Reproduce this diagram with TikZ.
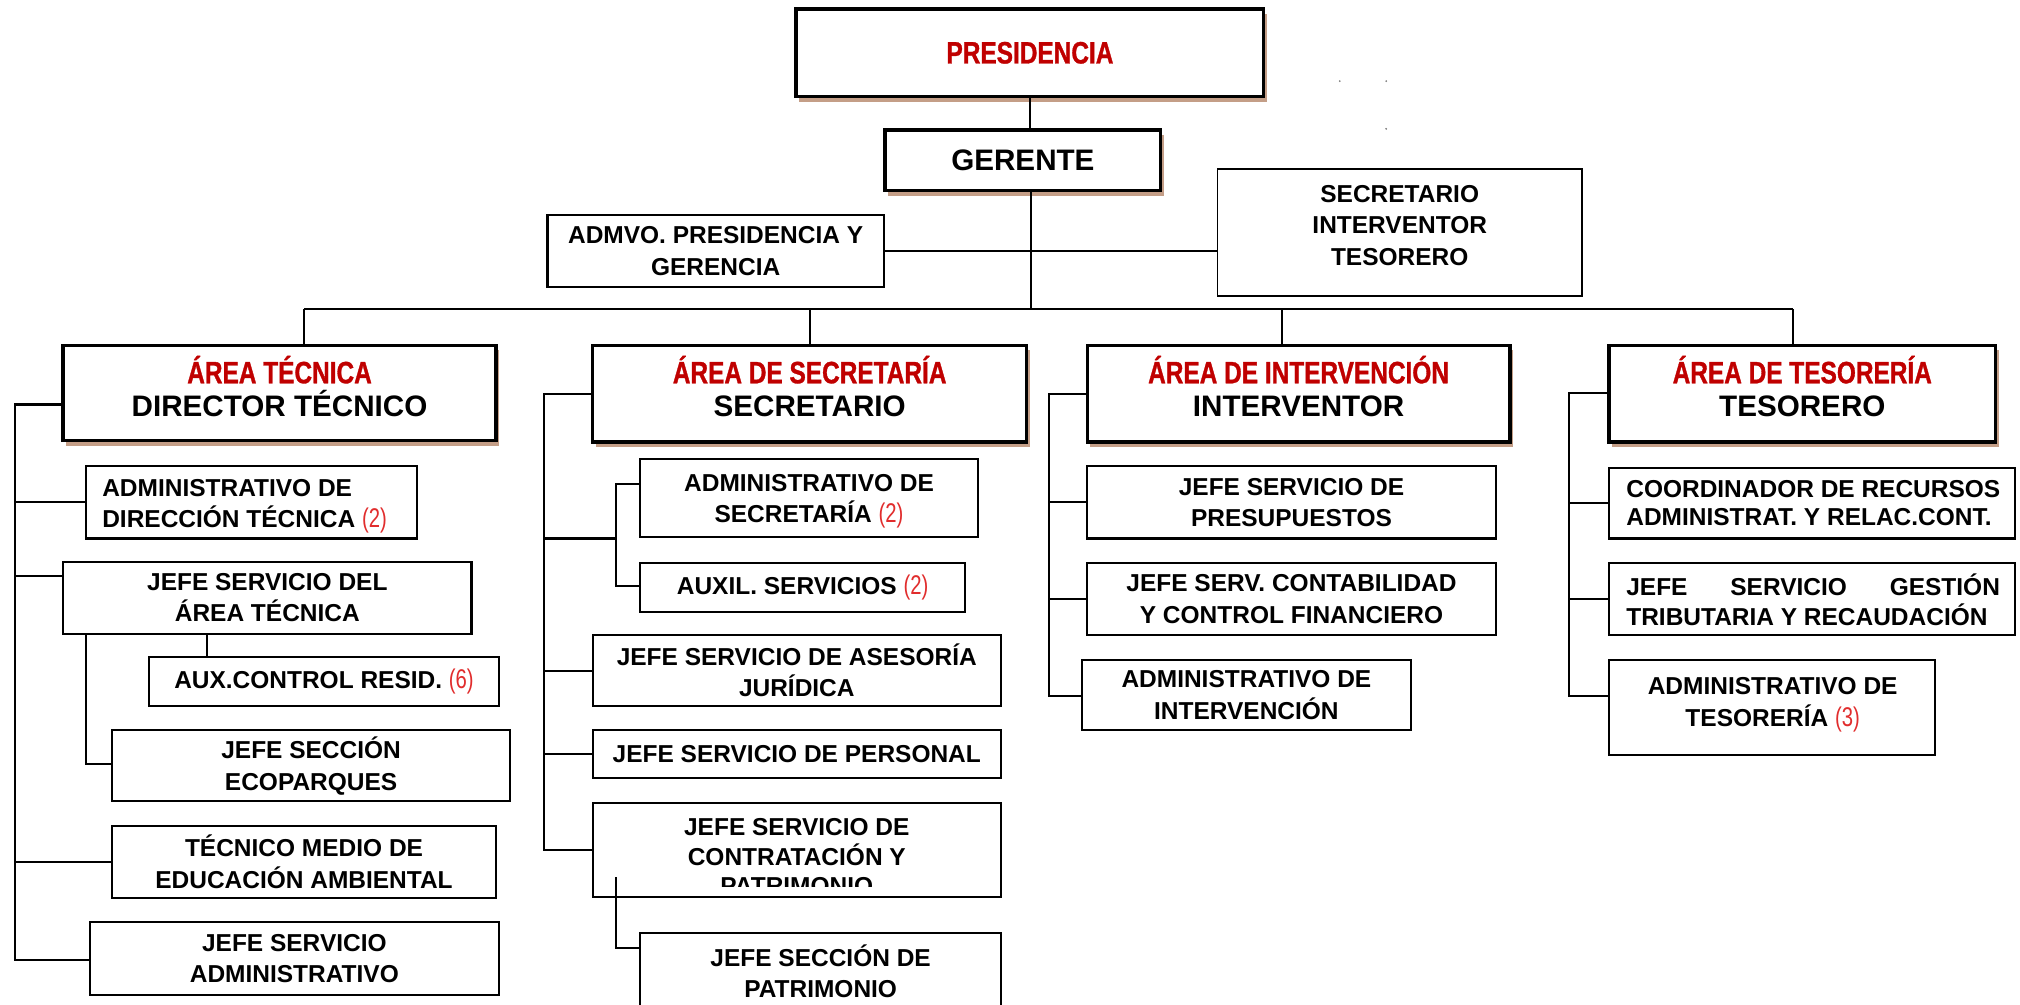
\documentclass[tikz,border=0pt]{standalone}
\usepackage{fontspec}
\setmainfont{Liberation Sans}
\newfontfamily\hdfont{Liberation Sans}[FakeStretch=0.79,FakeBold=1]
\newfontfamily\nmfont{Liberation Sans}[FakeStretch=0.75]
\usetikzlibrary{shadows}
\definecolor{hdred}{RGB}{192,0,0}
\definecolor{nmred}{RGB}{225,45,45}
\definecolor{shad}{RGB}{196,158,135}
\newcommand\nm[1]{{\nmfont\mdseries\fontsize{10.5}{12}\selectfont\color{nmred}(#1)}}
\newcommand\hd[1]{{\hdfont\bfseries\fontsize{12}{13}\selectfont\color{hdred}#1}}
\newcommand\orgbox[7][]{%
  \pgfmathsetmacro\obcx{(#3+#5)/2}%
  \pgfmathsetmacro\obcy{(#4+#6)/2}%
  \pgfmathsetmacro\obw{(#5-#3)*0.5}%
  \pgfmathsetmacro\obh{(#6-#4)*0.5}%
  \node[sbox,minimum width=\obw pt,minimum height=\obh pt,#1] (#2) at (\obcx,\obcy) {#7};}
\tikzset{
  sbox/.style={draw, line width=0.8pt, fill=white, inner sep=0pt, align=center,
    font=\bfseries\fontsize{9.5}{12.2}\selectfont},
  bbox/.style={line width=1.3pt, font=\bfseries\fontsize{11.5}{13}\selectfont,
    general shadow={fill=shad, shadow xshift=1.2pt, shadow yshift=-2pt}},
  txt/.style={inner sep=0pt, font=\bfseries\fontsize{9.5}{12.2}\selectfont},
  btxt/.style={inner sep=0pt, align=center, font=\bfseries\fontsize{11.5}{13}\selectfont},
  conn/.style={line width=0.8pt},
}
\begin{document}
\begin{tikzpicture}[x=0.5pt,y=-0.5pt]
\useasboundingbox (0,0) rectangle (1568,780);
\clip (0,0) rectangle (1568,780);
% top
\orgbox[bbox]{pres}{618}{7}{981}{75}{\hd{PRESIDENCIA}}
\orgbox[bbox]{ger}{687}{101}{901}{148}{GERENTE}
\orgbox{adm}{425}{167}{686}{223}{ADMVO. PRESIDENCIA Y\\GERENCIA}
\orgbox[line width=0.7pt]{sit}{945}{131}{1228}{230}{}
\node[txt,align=center] (sitt) at (1086.5,175) {SECRETARIO\\INTERVENTOR\\TESORERO};
% areas
\orgbox[bbox]{a1}{49}{268}{385}{342}{}
\orgbox[bbox]{a2}{460}{268}{797}{343}{}
\orgbox[bbox]{a3}{844}{268}{1172}{343}{}
\orgbox[bbox]{a4}{1249}{268}{1549}{343}{}
\node[btxt] (a1t) at (217,300) {\hd{ÁREA TÉCNICA}\\DIRECTOR TÉCNICO};
\node[btxt] (a2t) at (628.5,300) {\hd{ÁREA DE SECRETARÍA}\\SECRETARIO};
\node[btxt] (a3t) at (1008,300) {\hd{ÁREA DE INTERVENCIÓN}\\INTERVENTOR};
\node[btxt] (a4t) at (1399,300) {\hd{ÁREA DE TESORERÍA}\\TESORERO};
% tecnica
\orgbox{t1}{67}{362}{324}{418}{}
\node[txt,anchor=west,align=left] (t1t) at (79,393) {ADMINISTRATIVO DE\\DIRECCIÓN TÉCNICA \nm{2}};
\orgbox{t2}{49}{436}{366}{492}{JEFE SERVICIO DEL\\ÁREA TÉCNICA}
\orgbox{t3}{116}{510}{387}{548}{AUX.CONTROL RESID. \nm{6}}
\orgbox{t4}{87}{567}{396}{622}{JEFE SECCIÓN\\ECOPARQUES}
\orgbox{t5}{87}{641}{385}{697}{TÉCNICO MEDIO DE\\EDUCACIÓN AMBIENTAL}
\orgbox{t6}{70}{716}{387}{772}{JEFE SERVICIO\\ADMINISTRATIVO}
% secretaria
\orgbox{s1}{497}{356}{759}{417}{}
\node[txt,align=center] (s1t) at (628,389) {ADMINISTRATIVO DE\\SECRETARÍA \nm{2}};
\orgbox{s2}{497}{437}{749}{475}{AUXIL. SERVICIOS \nm{2}}
\orgbox{s3}{460}{493}{777}{548}{JEFE SERVICIO DE ASESORÍA\\JURÍDICA}
\orgbox{s4}{460}{567}{777}{604}{JEFE SERVICIO DE PERSONAL}
\orgbox{s5}{460}{623}{777}{696}{}
\begin{scope}
\clip (460,623) rectangle (777,688.5);
\node[txt,align=center,font=\bfseries\fontsize{9.5}{11.5}\selectfont] (s5t) at (618.5,665) {JEFE SERVICIO DE\\CONTRATACIÓN Y\\PATRIMONIO};
\end{scope}
\orgbox{s6}{497}{724}{777}{800}{}
\node[txt,align=center] (s6t) at (637,754) {JEFE SECCIÓN DE\\PATRIMONIO};
% intervencion
\orgbox{i1}{844}{362}{1161}{418}{JEFE SERVICIO DE\\PRESUPUESTOS}
\orgbox{i2}{844}{437}{1161}{493}{JEFE SERV. CONTABILIDAD\\Y CONTROL FINANCIERO}
\orgbox{i3}{840}{512}{1095}{567}{ADMINISTRATIVO DE\\INTERVENCIÓN}
% tesoreria
\orgbox{r1}{1249}{363}{1564}{418}{}
\node[txt,anchor=west,align=left,font=\bfseries\fontsize{9.5}{11}\selectfont] (r1t) at (1262,390.5) {COORDINADOR DE RECURSOS\\ADMINISTRAT. Y RELAC.CONT.};
\orgbox{r2}{1249}{437}{1564}{493}{}
\node[txt,anchor=west,align=left,font=\bfseries\fontsize{9.5}{11.5}\selectfont] (r2t) at (1262,465.5) {\makebox[145pt][s]{JEFE SERVICIO GESTIÓN}\\TRIBUTARIA Y RECAUDACIÓN};
\orgbox{r3}{1249}{512}{1502}{586}{}
\node[txt,align=center] (r3t) at (1376,547) {ADMINISTRATIVO DE\\TESORERÍA \nm{3}};
% connectors top
\coordinate (busM) at (800,240);
\coordinate (busL) at (236,240);
\coordinate (busR) at (1392,240);
\coordinate (b3) at (995,240);
\draw[conn] (pres.south) -- (pres.south |- ger.north);
\draw[conn] (busM |- ger.south) -- (busM);
\draw[conn] (adm.east) -- (sit.west |- adm.east);
\draw[conn] (busL) -- (busR);
\draw[conn] (busL) -- (busL |- a1.north);
\draw[conn] (a2.north |- busL) -- (a2.north);
\draw[conn] (b3) -- (b3 |- a3.north);
\draw[conn] (busR) -- (busR |- a4.north);
% tecnica connectors
\coordinate (tA) at (12,314);
\coordinate (tZ) at (12,745);
\coordinate (tJ) at (12,447);
\coordinate (tS) at (67,593);
\coordinate (tX) at (161,492);
\draw[conn] (a1.west |- tA) -- (tA) -- (tZ) -- (t6.west |- tZ);
\draw[conn] (tA |- t1.west) -- (t1.west);
\draw[conn] (tJ) -- (t2.west |- tJ);
\draw[conn] (tA |- t5.west) -- (t5.west);
\draw[conn] (t2.south -| tS) -- (tS) -- (t4.west |- tS);
\draw[conn] (t2.south -| tX) -- (tX |- t3.north);
% secretaria connectors
\coordinate (sA) at (422,306);
\coordinate (sZ) at (422,660);
\coordinate (sB) at (478,418);
\coordinate (sB1) at (478,376);
\coordinate (sB2) at (478,455);
\coordinate (sP1) at (478,681);
\coordinate (sP2) at (478,736);
\draw[conn] (a2.west |- sA) -- (sA) -- (sZ) -- (s5.west |- sZ);
\draw[conn] (sA |- sB) -- (sB);
\draw[conn] (s1.west |- sB1) -- (sB1) -- (sB2) -- (s2.west |- sB2);
\draw[conn] (sA |- s3.west) -- (s3.west);
\draw[conn] (sA |- s4.west) -- (s4.west);
\draw[conn] (sP1) -- (sP2) -- (s6.west |- sP2);
% intervencion connectors
\coordinate (iA) at (814,306);
\coordinate (iZ) at (814,540);
\draw[conn] (a3.west |- iA) -- (iA) -- (iZ) -- (i3.west |- iZ);
\draw[conn] (iA |- i1.west) -- (i1.west);
\draw[conn] (iA |- i2.west) -- (i2.west);
% tesoreria connectors
\coordinate (rA) at (1218,305);
\coordinate (rZ) at (1218,540);
\draw[conn] (a4.west |- rA) -- (rA) -- (rZ) -- (r3.west |- rZ);
\draw[conn] (rA |- r1.west) -- (r1.west);
\draw[conn] (rA |- r2.west) -- (r2.west);
% specks
\fill[gray] (1040,63) circle (0.8);
\fill[gray] (1076,63) circle (0.8);
\fill[gray] (1076,100) circle (0.8);
\end{tikzpicture}
\end{document}
